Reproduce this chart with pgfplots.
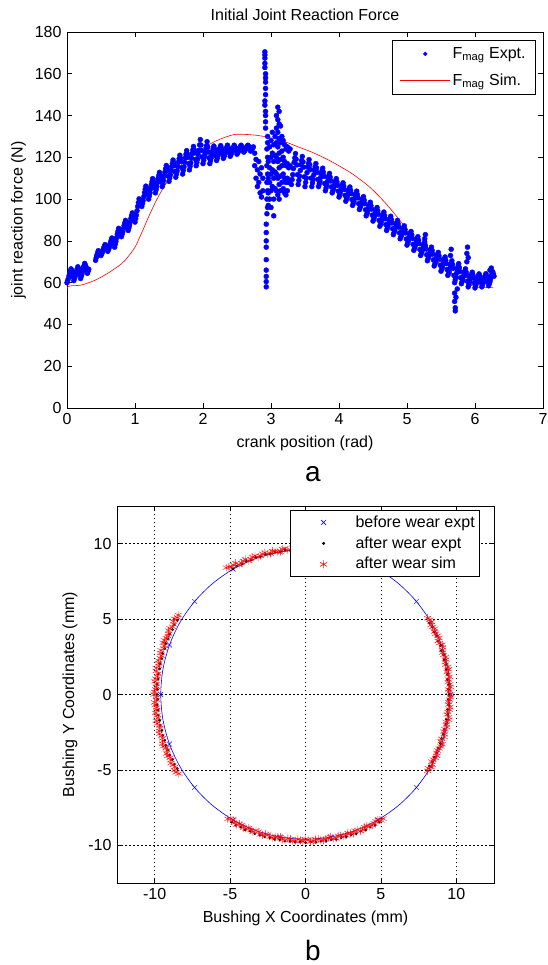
\documentclass[border=0pt]{standalone}
\usepackage{pgfplots}
\pgfplotsset{compat=1.18}
\usepackage{fontspec}
\setmainfont{Liberation Sans}
\newcommand{\chartfont}{\fontsize{16bp}{19bp}\selectfont}
\pgfplotsset{
  every axis/.append style={
    scale only axis,
    font=\chartfont,
    tick label style={font=\chartfont},
    label style={font=\chartfont},
    title style={font=\chartfont},
    /pgf/number format/assume math mode=true,
    axis line style={line width=0.8bp, black},
    tick style={line width=0.6bp, black},
    major tick length=5bp,
    tick align=inside,
    tick pos=both,
    legend cell align=left,
  },
  linelegend/.style={legend image code/.code={\draw[##1] (0bp,0bp) -- (50bp,0bp);}},
  dotlegend/.style={legend image code/.code={\path[draw=none] (0bp,0bp) -- (50bp,0bp);
    \draw[##1, mark size=1.8bp] plot[only marks] coordinates {(25bp,0bp)};}},
  marklegend/.style={legend image code/.code={\path[draw=none] (0bp,0bp) -- (60bp,0bp);
    \draw[##1] plot[only marks] coordinates {(30bp,0bp)};}},
}
\begin{document}
\chartfont
\begin{tikzpicture}
\useasboundingbox (0,0) rectangle (548bp,-965bp);
% ---------------- top chart ----------------
\begin{axis}[
  at={(67bp,-32bp)}, anchor=north west,
  width=476bp, height=376bp,
  xmin=0, xmax=7, ymin=0, ymax=180,
  xtick={0,1,2,3,4,5,6,7},
  ytick={0,20,40,60,80,100,120,140,160,180},
  title={Initial Joint Reaction Force},
  xlabel={crank position (rad)},
  ylabel={joint reaction force (N)},
  ylabel style={yshift=-2bp},
  legend style={at={(0.985,0.979)}, anchor=north east, draw=black,
    line width=0.6bp, fill=white, font=\chartfont, row sep=9bp,
    inner xsep=8bp, inner ysep=5bp},
]
\addplot[only marks, mark=*, mark size=2.5bp, blue, dotlegend]
coordinates {
(0.00,60) (0.02,62.0) (0.04,64.6) (0.06,66.6) (0.08,64.7) (0.10,61) (0.12,63.0) (0.14,65.6) (0.16,67.6) (0.18,65.7)
(0.20,62) (0.22,64.2) (0.24,67.0) (0.26,69.2) (0.28,67.5) (0.30,64.5) (0.32,66.4)
(0.42,70.7) (0.44,73.2) (0.46,75.3) (0.48,74.7) (0.50,73) (0.52,74.6) (0.54,76.6) (0.56,78.2) (0.58,77.2)
(0.60,75) (0.62,76.7) (0.64,79.2) (0.66,81.4) (0.68,80.2) (0.70,77) (0.72,79.8) (0.74,83.2) (0.76,86) (0.78,84.9)
(0.80,82) (0.82,84.4) (0.84,87.4) (0.86,89.8) (0.88,88.3) (0.90,85) (0.92,87.6) (0.94,90.8) (0.96,93.4) (0.98,92.1)
(1.00,89) (1.02,92.3) (1.04,96.5) (1.06,100.1) (1.08,99.4) (1.10,96.5) (1.12,99.3) (1.14,103.1) (1.16,106.2) (1.18,104.4)
(1.20,100) (1.22,103) (1.24,106.8) (1.26,109.8) (1.28,107.6) (1.30,103) (1.32,106) (1.34,109.8) (1.36,112.8) (1.38,110.6)
(1.40,106) (1.42,108.9) (1.44,112.9) (1.46,116.1) (1.48,113.7) (1.50,108.5) (1.52,111.6) (1.54,115.6) (1.56,118.7) (1.58,116)
(1.60,110.5) (1.62,113.5) (1.64,117.7) (1.66,121) (1.68,118) (1.70,112) (1.72,115.4) (1.74,119.8) (1.76,123.2) (1.78,120.1)
(1.80,114) (1.82,117.4) (1.84,121.8) (1.86,125.2) (1.88,122.1) (1.90,116) (1.92,119.2) (1.94,123.4) (1.96,128.5) (1.98,123.3)
(2.00,117) (2.02,120) (2.04,123.4) (2.06,127.5) (2.08,122.6) (2.10,117) (2.12,119.7) (2.14,122.9) (2.16,125.4) (2.18,122.9)
(2.20,118.5) (2.22,120.7) (2.24,123.6) (2.26,125.6) (2.28,123.4) (2.30,119.5) (2.32,121.4) (2.34,123.9) (2.36,125.8) (2.38,123.8)
(2.40,120.5) (2.42,122.1) (2.44,124.2) (2.46,125.8) (2.48,124.2) (2.50,121.5) (2.52,122.8) (2.54,124.5) (2.56,125.8) (2.58,124.5)
(2.60,122.5) (2.62,123.5) (2.64,124.8) (2.66,125.8) (2.68,124.9) (2.70,123) (2.72,124) (2.74,125)
(2.76,122) (2.76,116) (2.78,119) (2.78,110) (2.80,114) (2.80,106) (2.82,118) (2.82,108) (2.84,112) (2.84,103)
(2.86,115) (2.86,101) (2.88,110) (2.88,104)
(2.91,170.5) (2.91,169) (2.91,167.5) (2.91,165) (2.91,163) (2.92,160) (2.92,158) (2.92,156) (2.92,153) (2.92,150)
(2.91,147) (2.91,145) (2.92,142) (2.92,140) (2.92,137) (2.92,134)
(2.95,130) (2.95,127) (2.94,124) (2.95,120) (2.94,116) (2.95,112) (2.94,108) (2.95,104) (2.94,100) (2.95,96) (2.94,93)
(2.93,88) (2.93,84) (2.93,80) (2.93,77) (2.93,71) (2.93,66) (2.93,63) (2.93,60.5) (2.93,58)
(2.96,118) (2.96,110) (2.96,103) (2.96,97) (2.98,125) (2.98,115) (2.98,108) (2.98,100)
(3.00,128) (3.00,120) (3.00,112) (3.00,104) (3.00,96) (3.02,132) (3.02,122) (3.02,114) (3.02,106)
(3.04,126) (3.04,118) (3.04,110) (3.04,100) (3.04,92) (3.06,130) (3.06,121) (3.06,113) (3.06,105)
(3.08,140) (3.08,134) (3.08,127) (3.08,120) (3.08,112) (3.08,104)
(3.10,144) (3.10,138) (3.10,132) (3.10,125) (3.10,118) (3.10,110) (3.10,102)
(3.12,142) (3.12,136) (3.12,129) (3.12,122) (3.12,115) (3.12,107) (3.12,100)
(3.14,135) (3.14,127) (3.14,119) (3.14,111) (3.14,104) (3.16,130) (3.16,123) (3.16,116) (3.16,108)
(3.18,128) (3.18,120) (3.18,112) (3.18,105) (3.20,126) (3.20,118) (3.20,110) (3.20,103)
(3.22,124) (3.22,116) (3.22,108) (3.22,102) (3.24,125) (3.24,117) (3.24,110) (3.24,104)
(3.26,123) (3.26,115) (3.26,108) (3.28,124) (3.28,116) (3.28,109)
(3.30,107) (3.32,111.7) (3.34,117.6) (3.36,121.8) (3.38,116.4) (3.40,107) (3.42,111) (3.44,116.4) (3.46,120.4) (3.48,115.3)
(3.50,106) (3.52,110.1) (3.54,115.3) (3.56,118.9) (3.58,114.1) (3.60,106) (3.62,109.5) (3.64,113.9) (3.66,117) (3.68,112.8)
(3.70,106) (3.72,108.6) (3.74,112.2) (3.76,114.8) (3.78,110.9) (3.80,104) (3.82,106.8) (3.84,110) (3.86,112.3) (3.88,108.7)
(3.90,103) (3.92,105) (3.94,107.8) (3.96,109.8) (3.98,106.6) (4.00,101) (4.02,103) (4.04,105.8) (4.06,107.8) (4.08,104.6)
(4.10,99) (4.12,101) (4.14,103.8) (4.16,105.8) (4.18,102.6) (4.20,97) (4.22,99) (4.24,101.8) (4.26,103.8) (4.28,100.6)
(4.30,95) (4.32,96.8) (4.34,99.4) (4.36,101.2) (4.38,97.8) (4.40,92) (4.42,93.9) (4.44,96.6) (4.46,98.5) (4.48,95.2)
(4.50,89.5) (4.52,91.4) (4.54,94.1) (4.56,96) (4.58,92.7) (4.60,87) (4.62,89) (4.64,91.8) (4.66,93.8) (4.68,90.6)
(4.70,85) (4.72,87) (4.74,89.8) (4.76,91.8) (4.78,88.6) (4.80,83) (4.82,85) (4.84,87.8) (4.86,89.8) (4.88,86.6)
(4.90,81) (4.92,82.8) (4.94,85.4) (4.96,87.2) (4.98,83.8) (5.00,78) (5.02,79.9) (5.04,82.6) (5.06,84.5) (5.08,81.2)
(5.10,75.5) (5.12,77.4) (5.14,80.1) (5.16,82) (5.18,78.7) (5.20,73) (5.22,74.9) (5.24,77.6) (5.26,79.5) (5.28,76.2)
(5.30,70.5) (5.32,72.4) (5.34,75.1) (5.36,77) (5.38,73.7) (5.40,68) (5.42,69.9) (5.44,72.6) (5.46,74.5) (5.48,71.2)
(5.50,65.5) (5.52,67.5) (5.54,70.3) (5.56,72.3) (5.58,69.1) (5.60,63.5) (5.62,65.2) (5.64,68.3) (5.66,70.5) (5.68,66.9)
(5.70,60) (5.72,62.7) (5.74,66.4) (5.76,69.1) (5.78,65.3) (5.80,59.5) (5.82,61.6) (5.84,64.5) (5.86,66.6) (5.88,63.5)
(5.90,58) (5.92,60.3) (5.94,63.1) (5.96,65) (5.98,62.3) (6.00,57.5) (6.02,59.7) (6.04,62.3) (6.06,64.2) (6.08,62)
(6.10,58) (6.12,59.9) (6.14,62.4) (6.16,64.3) (6.18,62.3) (6.20,58.5) (6.22,60.5) (6.24,63.2) (6.26,65.2) (6.28,63.1)
(5.70,55) (5.70,51) (5.71,48) (5.71,46.5) (5.72,53) (5.74,57) (5.88,70) (5.88,74) (5.89,77) (5.90,72)
(5.64,73) (5.65,76) (6.22,66) (6.24,67) (5.26,81) (5.27,83)
};
\addlegendentry{F\textsubscript{mag} Expt.}
\addplot[only marks, mark=*, mark size=2.5bp, blue, forget plot]
coordinates {
(0.01,61) (0.03,63.3) (0.05,65.6) (0.07,65.65) (0.09,62.85) (0.11,62) (0.13,64.3) (0.15,66.6) (0.17,66.65) (0.19,63.85)
(0.21,63.1) (0.23,65.6) (0.25,68.1) (0.27,68.35) (0.29,66) (0.31,65.45)
(0.43,71.95) (0.45,74.25) (0.47,75) (0.49,73.85) (0.51,73.8) (0.53,75.6) (0.55,77.4) (0.57,77.7) (0.59,76.1)
(0.61,75.85) (0.63,77.95) (0.65,80.3) (0.67,80.8) (0.69,78.6) (0.71,78.4) (0.73,81.5) (0.75,84.6) (0.77,85.45) (0.79,83.45)
(0.81,83.2) (0.83,85.9) (0.85,88.6) (0.87,89.05) (0.89,86.65) (0.91,86.3) (0.93,89.2) (0.95,92.1) (0.97,92.75) (0.99,90.55)
(1.01,90.65) (1.03,94.4) (1.05,98.3) (1.07,99.75) (1.09,97.95) (1.11,97.9) (1.13,101.2) (1.15,104.65) (1.17,105.3) (1.19,102.2)
(1.21,101.5) (1.23,104.9) (1.25,108.3) (1.27,108.7) (1.29,105.3) (1.31,104.5) (1.33,107.9) (1.35,111.3) (1.37,111.7) (1.39,108.3)
(1.41,107.45) (1.43,110.9) (1.45,114.5) (1.47,114.9) (1.49,111.1) (1.51,110.05) (1.53,113.6) (1.55,117.15) (1.57,117.35) (1.59,113.25)
(1.61,112) (1.63,115.6) (1.65,119.35) (1.67,119.5) (1.69,115) (1.71,113.7) (1.73,117.6) (1.75,121.5) (1.77,121.65) (1.79,117.05)
(1.81,115.7) (1.83,119.6) (1.85,123.5) (1.87,123.65) (1.89,119.05) (1.91,117.6) (1.93,121.3) (1.95,125.95) (1.97,125.9) (1.99,120.15)
(2.01,118.5) (2.03,121.7) (2.05,125.45) (2.07,125.05) (2.09,119.8) (2.11,118.35) (2.13,121.3) (2.15,124.15) (2.17,124.15) (2.19,120.7)
(2.21,119.6) (2.23,122.15) (2.25,124.6) (2.27,124.5) (2.29,121.45) (2.31,120.45) (2.33,122.65) (2.35,124.85) (2.37,124.8) (2.39,122.15)
(2.41,121.3) (2.43,123.15) (2.45,125) (2.47,125) (2.49,122.85) (2.51,122.15) (2.53,123.65) (2.55,125.15) (2.57,125.15) (2.59,123.5)
(2.61,123) (2.63,124.15) (2.65,125.3) (2.67,125.35) (2.69,123.95) (2.71,123.5) (2.73,124.5)
(3.31,109.35) (3.33,114.65) (3.35,119.7) (3.37,119.1) (3.39,111.7) (3.41,109) (3.43,113.7) (3.45,118.4) (3.47,117.85) (3.49,110.65)
(3.51,108.05) (3.53,112.7) (3.55,117.1) (3.57,116.5) (3.59,110.05) (3.61,107.75) (3.63,111.7) (3.65,115.45) (3.67,114.9) (3.69,109.4)
(3.71,107.3) (3.73,110.4) (3.75,113.5) (3.77,112.85) (3.79,107.45) (3.81,105.4) (3.83,108.4) (3.85,111.15) (3.87,110.5) (3.89,105.85)
(3.91,104) (3.93,106.4) (3.95,108.8) (3.97,108.2) (3.99,103.8) (4.01,102) (4.03,104.4) (4.05,106.8) (4.07,106.2) (4.09,101.8)
(4.11,100) (4.13,102.4) (4.15,104.8) (4.17,104.2) (4.19,99.8) (4.21,98) (4.23,100.4) (4.25,102.8) (4.27,102.2) (4.29,97.8)
(4.31,95.9) (4.33,98.1) (4.35,100.3) (4.37,99.5) (4.39,94.9) (4.41,92.95) (4.43,95.25) (4.45,97.55) (4.47,96.85) (4.49,92.35)
(4.51,90.45) (4.53,92.75) (4.55,95.05) (4.57,94.35) (4.59,89.85) (4.61,88) (4.63,90.4) (4.65,92.8) (4.67,92.2) (4.69,87.8)
(4.71,86) (4.73,88.4) (4.75,90.8) (4.77,90.2) (4.79,85.8) (4.81,84) (4.83,86.4) (4.85,88.8) (4.87,88.2) (4.89,83.8)
(4.91,81.9) (4.93,84.1) (4.95,86.3) (4.97,85.5) (4.99,80.9) (5.01,78.95) (5.03,81.25) (5.05,83.55) (5.07,82.85) (5.09,78.35)
(5.11,76.45) (5.13,78.75) (5.15,81.05) (5.17,80.35) (5.19,75.85) (5.21,73.95) (5.23,76.25) (5.25,78.55) (5.27,77.85) (5.29,73.35)
(5.31,71.45) (5.33,73.75) (5.35,76.05) (5.37,75.35) (5.39,70.85) (5.41,68.95) (5.43,71.25) (5.45,73.55) (5.47,72.85) (5.49,68.35)
(5.51,66.5) (5.53,68.9) (5.55,71.3) (5.57,70.7) (5.59,66.3) (5.61,64.35) (5.63,66.75) (5.65,69.4) (5.67,68.7) (5.69,63.45)
(5.71,61.35) (5.73,64.55) (5.75,67.75) (5.77,67.2) (5.79,62.4) (5.81,60.55) (5.83,63.05) (5.85,65.55) (5.87,65.05) (5.89,60.75)
(5.91,59.15) (5.93,61.7) (5.95,64.05) (5.97,63.65) (5.99,59.9) (6.01,58.6) (6.03,61) (6.05,63.25) (6.07,63.1) (6.09,60)
(6.11,58.95) (6.13,61.15) (6.15,63.35) (6.17,63.3) (6.19,60.4) (6.21,59.5) (6.23,61.85) (6.25,64.2) (6.27,64.15)
};
\addplot[red, line width=0.6bp, smooth, linelegend]
coordinates {
(0,52) (0.01,58) (0.2,58.8) (0.4,61) (0.6,64.5) (0.8,69) (0.9,72.5) (1.0,77) (1.1,84) (1.2,91.5)
(1.3,98.5) (1.4,104.5) (1.5,109.5) (1.6,113.5) (1.7,117) (1.8,120) (1.9,122.5) (2.0,124.5) (2.2,128)
(2.44,130.8) (2.6,131) (2.8,130.5) (3.0,129.3) (3.2,127.5) (3.4,125) (3.6,122.5) (3.8,119.5) (3.97,116.5)
(4.2,112) (4.46,105.5) (4.7,97.5) (4.94,88) (5.1,81.5) (5.24,76.5) (5.4,71.5) (5.58,66.5) (5.75,62)
(5.93,58.9) (6.05,57.8) (6.27,57.6)
};
\addlegendentry{F\textsubscript{mag} Sim.}
\end{axis}
\node[font=\fontsize{28bp}{30bp}\selectfont] at (313bp,-474bp) {a};
% ---------------- bottom chart ----------------
\begin{axis}[
  at={(117bp,-506bp)}, anchor=north west,
  width=377bp, height=377bp,
  xmin=-12.5, xmax=12.5, ymin=-12.5, ymax=12.5,
  xtick={-10,-5,0,5,10}, ytick={-10,-5,0,5,10},
  grid=major,
  grid style={black, line width=0.5bp, dash pattern=on 1.5bp off 2.5bp},
  xlabel={Bushing X Coordinates (mm)},
  ylabel={Bushing Y Coordinates (mm)},
  legend style={at={(0.963,0.989)}, anchor=north east, draw=black,
    line width=0.6bp, fill=white, font=\chartfont, row sep=3bp,
    inner xsep=3bp, inner ysep=3bp},
]
\addplot[blue, line width=0.6bp, smooth, forget plot, data cs=polar] coordinates {
(0,9.6) (10,9.6) (20,9.6) (30,9.6) (40,9.6) (50,9.6) (60,9.6) (70,9.6) (80,9.6) (90,9.6)
(100,9.6) (110,9.6) (120,9.6) (130,9.6) (140,9.6) (150,9.6) (160,9.6) (170,9.6) (180,9.6)
(190,9.6) (200,9.6) (210,9.6) (220,9.6) (230,9.6) (240,9.6) (250,9.6) (260,9.6) (270,9.6)
(280,9.6) (290,9.6) (300,9.6) (310,9.6) (320,9.6) (330,9.6) (340,9.6) (350,9.6) (360,9.6)
};
\addplot[only marks, mark=x, mark size=3.5bp, blue, data cs=polar, marklegend]
coordinates {
(0,9.6) (20,9.6) (40,9.6) (60,9.6) (80,9.6) (100,9.6) (120,9.6) (140,9.6) (160,9.6)
(180,9.6) (200,9.6) (220,9.6) (240,9.6) (260,9.6) (280,9.6) (300,9.6) (320,9.6) (340,9.6)
};
\addlegendentry{before wear expt}
\addplot[only marks, mark=*, mark size=1.2bp, black, data cs=polar, marklegend]
coordinates {
(60,9.62) (62,9.66) (64,9.62) (66,9.66) (68,9.62) (70,9.66) (72,9.62) (74,9.66) (76,9.62) (78,9.66)
(80,9.62) (82,9.66) (84,9.62) (86,9.66) (88,9.62) (90,9.66) (92,9.62) (94,9.66) (96,9.62) (98,9.66)
(100,9.62) (102,9.66) (104,9.62) (106,9.66) (108,9.62) (110,9.66) (112,9.62) (114,9.66) (116,9.62) (118,9.66) (120,9.62)
(150,9.82) (152,9.86) (154,9.82) (156,9.86) (158,9.82) (160,9.86) (162,9.82) (164,9.86) (166,9.82) (168,9.86)
(170,9.82) (172,9.86) (174,9.82) (176,9.86) (178,9.82) (180,9.86) (182,9.82) (184,9.86) (186,9.82) (188,9.86)
(190,9.82) (192,9.86) (194,9.82) (196,9.86) (198,9.82) (200,9.86) (202,9.82) (204,9.86) (206,9.82) (208,9.86) (210,9.82)
(-30,9.48) (-28,9.52) (-26,9.48) (-24,9.52) (-22,9.48) (-20,9.52) (-18,9.48) (-16,9.52) (-14,9.48) (-12,9.52)
(-10,9.48) (-8,9.52) (-6,9.48) (-4,9.52) (-2,9.48) (0,9.52) (2,9.48) (4,9.52) (6,9.48) (8,9.52)
(10,9.48) (12,9.52) (14,9.48) (16,9.52) (18,9.48) (20,9.52) (22,9.48) (24,9.52) (26,9.48) (28,9.52) (30,9.48)
(240,9.78) (242,9.82) (244,9.78) (246,9.82) (248,9.78) (250,9.82) (252,9.78) (254,9.82) (256,9.78) (258,9.82)
(260,9.78) (262,9.82) (264,9.78) (266,9.82) (268,9.78) (270,9.82) (272,9.78) (274,9.82) (276,9.78) (278,9.82)
(280,9.78) (282,9.82) (284,9.78) (286,9.82) (288,9.78) (290,9.82) (292,9.78) (294,9.82) (296,9.78) (298,9.82) (300,9.78)
};
\addlegendentry{after wear expt}
\addplot[only marks, mark=asterisk, mark size=4bp, red, data cs=polar, marklegend]
coordinates {
(58,9.85) (60,9.7) (62,9.8) (64,9.62) (66,9.75) (68,9.66) (70,9.78) (72,9.6) (74,9.72) (76,9.64)
(78,9.76) (80,9.62) (82,9.7) (84,9.6) (86,9.74) (88,9.64) (90,9.7) (92,9.6) (94,9.74) (96,9.66)
(98,9.78) (100,9.62) (102,9.72) (104,9.64) (106,9.78) (108,9.66) (110,9.8) (112,9.68) (114,9.82) (116,9.7)
(118,9.86) (120,9.78) (122,9.92)
(59,9.76) (61,9.64) (63,9.76) (65,9.64) (67,9.76) (69,9.64) (71,9.76) (73,9.64) (75,9.76) (77,9.64)
(79,9.76) (81,9.64) (83,9.76) (85,9.64) (87,9.76) (89,9.64) (91,9.76) (93,9.64) (95,9.76) (97,9.64)
(99,9.76) (101,9.64) (103,9.76) (105,9.64) (107,9.76) (109,9.64) (111,9.76) (113,9.64) (115,9.76) (117,9.68)
(119,9.82) (121,9.86)
(148,9.95) (150,10.05) (152,9.88) (154,10.0) (156,9.92) (158,9.95) (160,10.05) (162,9.88) (164,10.0) (166,9.92)
(168,9.95) (170,10.05) (172,9.88) (174,10.0) (176,9.92) (178,9.95) (180,10.05) (182,9.88) (184,10.0) (186,9.92)
(188,9.95) (190,10.05) (192,9.88) (194,10.0) (196,9.92) (198,9.95) (200,10.05) (202,9.88) (204,10.0) (206,9.92)
(208,9.95) (210,10.05) (212,9.9)
(149,9.9) (151,10.02) (153,9.9) (155,10.02) (157,9.9) (159,10.02) (161,9.9) (163,10.02) (165,9.9) (167,10.02)
(169,9.9) (171,10.02) (173,9.9) (175,10.02) (177,9.9) (179,10.02) (181,9.9) (183,10.02) (185,9.9) (187,10.02)
(189,9.9) (191,10.02) (193,9.9) (195,10.02) (197,9.9) (199,10.02) (201,9.9) (203,10.02) (205,9.9) (207,10.02)
(209,9.9) (211,10.02)
(-32,9.55) (-30,9.65) (-28,9.48) (-26,9.6) (-24,9.52) (-22,9.55) (-20,9.65) (-18,9.48) (-16,9.6) (-14,9.52)
(-12,9.55) (-10,9.65) (-8,9.48) (-6,9.6) (-4,9.52) (-2,9.55) (0,9.65) (2,9.48) (4,9.6) (6,9.52)
(8,9.55) (10,9.65) (12,9.48) (14,9.6) (16,9.52) (18,9.55) (20,9.65) (22,9.48) (24,9.6) (26,9.52)
(28,9.55) (30,9.65) (32,9.55)
(-31,9.5) (-29,9.62) (-27,9.5) (-25,9.62) (-23,9.5) (-21,9.62) (-19,9.5) (-17,9.62) (-15,9.5) (-13,9.62)
(-11,9.5) (-9,9.62) (-7,9.5) (-5,9.62) (-3,9.5) (-1,9.62) (1,9.5) (3,9.62) (5,9.5) (7,9.62)
(9,9.5) (11,9.62) (13,9.5) (15,9.62) (17,9.5) (19,9.62) (21,9.5) (23,9.62) (25,9.5) (27,9.62)
(29,9.5) (31,9.62)
(238,9.72) (240,9.6) (242,9.76) (244,9.64) (246,9.72) (248,9.68) (250,9.6) (252,9.76) (254,9.64) (256,9.72)
(258,9.68) (260,9.6) (262,9.76) (264,9.64) (266,9.72) (268,9.68) (270,9.6) (272,9.76) (274,9.64) (276,9.72)
(278,9.68) (280,9.6) (282,9.76) (284,9.64) (286,9.72) (288,9.68) (290,9.6) (292,9.76) (294,9.64) (296,9.72)
(298,9.68) (300,9.6) (302,9.7)
(239,9.62) (241,9.74) (243,9.62) (245,9.74) (247,9.62) (249,9.74) (251,9.62) (253,9.74) (255,9.62) (257,9.74)
(259,9.62) (261,9.74) (263,9.62) (265,9.74) (267,9.62) (269,9.74) (271,9.62) (273,9.74) (275,9.62) (277,9.74)
(279,9.62) (281,9.74) (283,9.62) (285,9.74) (287,9.62) (289,9.74) (291,9.62) (293,9.74) (295,9.62) (297,9.74)
(299,9.62) (301,9.74)
};
\addlegendentry{after wear sim}
\end{axis}
\node[font=\fontsize{28bp}{30bp}\selectfont] at (313bp,-950bp) {b};
\end{tikzpicture}
\end{document}
